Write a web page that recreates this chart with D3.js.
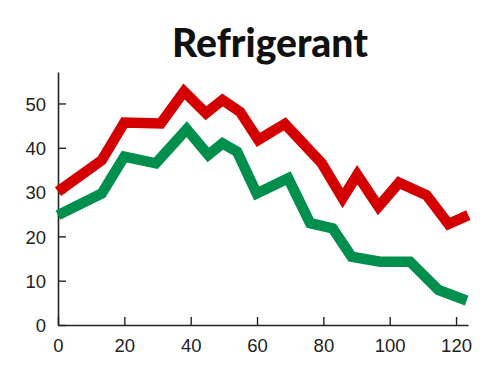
<!DOCTYPE html>
<html>
<head>
<meta charset="utf-8">
<script src="https://cdn.jsdelivr.net/npm/d3@7"></script>
<style>
  body { margin: 0; background: #fff; }
  svg { display: block; }
</style>
</head>
<body>
<svg id="chart" width="500" height="375"></svg>
<script>
// Data
const redX = [0, 13.2, 20, 31, 38, 44.6, 49.6, 54.9, 60.4, 68.4, 79.5, 85.8, 90.2, 96.6, 102.8, 111.1, 117.7, 123.7]
const redY = [30.1, 37.2, 45.7, 45.5, 52.7, 47.8, 50.8, 48.1, 41.8, 45.4, 36.5, 28.6, 33.9, 26.7, 32.1, 29.3, 22.8, 24.8]

const greenX = [0, 13.2, 20, 29.5, 38.8, 45.3, 49.6, 54, 59.9, 69.4, 76, 82.8, 88.5, 97.1, 106.1, 114.7, 123.2]
const greenY = [24.8, 29.7, 38, 36.5, 44.2, 38.4, 41, 39.1, 29.7, 33.1, 23, 21.8, 15.4, 14.3, 14.3, 7.9, 5.5]

const xTicks = [0, 20, 40, 60, 80, 100, 120]
const yTicks = [0, 10, 20, 30, 40, 50]

const svg = d3.select('#chart')

// scales: x 0 -> 58px, 120 -> 456px ; y 0 -> 325px, 50 -> 103.7px
const x = d3.scaleLinear().domain([0, 123.6]).range([58, 468])
const y = d3.scaleLinear().domain([0, 57.1]).range([325, 72])

svg.append('text')
	.attr('x', 270)
	.attr('y', 57)
	.attr('text-anchor', 'middle')
	.attr('font-family', 'Lato, sans-serif')
	.attr('font-weight', 900)
	.attr('font-size', 39)
	.attr('fill', '#111')
	.text('Refrigerant')

/* ===== AXES ===== */
const xAxis = svg.append('g')
	.attr('transform', `translate(0,${y(0)})`)
	.call(d3.axisBottom(x).tickValues(xTicks).tickSize(-8).tickPadding(14).tickSizeOuter(0))

const yAxis = svg.append('g')
	.attr('transform', `translate(${x(0)},0)`)
	.call(d3.axisLeft(y).tickValues(yTicks).tickSize(-8).tickPadding(12).tickSizeOuter(0))

for (const g of [xAxis, yAxis]) {
	g.select('.domain').attr('stroke', '#222').attr('stroke-width', 1.6)
	g.selectAll('.tick line').attr('stroke', '#222').attr('stroke-width', 1.4)
	g.selectAll('.tick text')
		.attr('font-family', '"Liberation Sans", Arial, sans-serif')
		.attr('font-size', 18.5)
		.attr('fill', '#222')
}
// y tick labels sit a bit lower next to their ticks
yAxis.selectAll('.tick text').attr('dy', '0.36em')

/* ===== LINES ===== */
const line = d3.line()
	.x(d => x(d[0]))
	.y(d => y(d[1]))

const series = [
	{ xs: redX, ys: redY, color: '#d40000' },
	{ xs: greenX, ys: greenY, color: '#008f4c' }
]

series.forEach(s => {
	svg.append('path')
		.datum(s.xs.map((v, i) => [v, s.ys[i]]))
		.attr('d', line)
		.attr('fill', 'none')
		.attr('stroke', s.color)
		.attr('stroke-width', 10.5)
		.attr('stroke-linejoin', 'miter')
		.attr('stroke-miterlimit', 3)
})
</script>
</body>
</html>
